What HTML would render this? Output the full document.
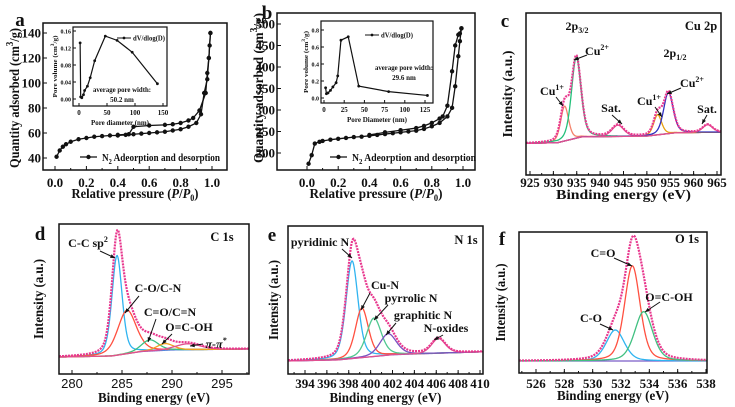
<!DOCTYPE html>
<html><head><meta charset="utf-8"><style>
html,body{margin:0;padding:0;background:#fff;}
svg{display:block;font-family:"Liberation Serif",serif;font-weight:bold;}
</style></head><body>
<svg id="fig" width="735" height="407" viewBox="0 0 735 407" xmlns="http://www.w3.org/2000/svg"></svg>
<script>
// ---- Panel a data ----
const aAdsX=[0.01,0.03,0.05,0.07,0.1,0.15,0.2,0.25,0.3,0.35,0.4,0.45,0.5,0.55,0.6,0.65,0.7,0.75,0.8,0.85,0.9,0.93,0.95,0.97,0.98,0.99];
const aAdsY=[41,46,49,51,53,55,56,57,57.5,58,58,58.5,59,59.5,60,60.5,61,62,63,65,68,75,92,103,120,140];
const aDesX=[0.99,0.985,0.98,0.97,0.96,0.92,0.88,0.85,0.8,0.75,0.7,0.6,0.5,0.47,0.4];
const aDesY=[140,130,120,108,92,78,72,70,68,67,66.5,66,65,59,58.5];
const aInX=[2,3,5,8,10,15,20,28,47,68,95,140];
const aInY=[0.132,0.005,0.003,0.01,0.02,0.03,0.05,0.09,0.148,0.138,0.11,0.036];
const aYTicks=[40,60,80,100,120,140];
const aXTicks=[0,0.2,0.4,0.6,0.8,1.0];
const aInYTicks=[0,0.04,0.08,0.12,0.16];
const aInXTicks=[0,50,100,150];
// ---- Panel b data ----
const bAdsX=[0.01,0.03,0.05,0.08,0.1,0.15,0.2,0.25,0.3,0.35,0.4,0.45,0.5,0.55,0.6,0.65,0.7,0.75,0.8,0.85,0.9,0.93,0.95,0.97,0.98,0.99];
const bAdsY=[175,195,222,226,228,231,233,235,237,238,240,242,244,246,248,250,252,256,262,270,285,305,355,425,460,490];
const bDesX=[0.99,0.98,0.97,0.95,0.93,0.9,0.87,0.85,0.8,0.75,0.7,0.6,0.5,0.4];
const bDesY=[490,478,475,450,390,310,285,280,270,263,258,253,248,242];
const bInX=[2,3,5,8,11,15,17,21,30,43,80,128];
const bInY=[0.12,0.05,0.06,0.09,0.13,0.18,0.26,0.68,0.72,0.14,0.075,0.03];
const bYTicks=[200,250,300,350,400,450,500];
const bXTicks=[0,0.2,0.4,0.6,0.8,1.0];
const bInYTicks=[0,0.2,0.4,0.6,0.8];
const bInXTicks=[0,25,50,75,100,125];
// ---- XPS peak data (center eV, height, fwhm) ----
const cCenters=[932.4,934.9,943.8,952.3,954.6,963.0];
const cHeights=[0.215,0.50,0.07,0.125,0.255,0.047];
const cWidths=[2.0,2.4,3.0,2.0,2.4,2.5];
const cBgX=[925,931,936,950,956,966];
const cBgY=[0.195,0.2,0.235,0.24,0.26,0.265];
const cXTicks=[925,930,935,940,945,950,955,960,965];
const dCenters=[284.5,285.5,287.8,289.3,291.6];
const dHeights=[0.665,0.29,0.075,0.045,0.04];
const dWidths=[1.2,2.2,2.0,2.0,3.0];
const dBgX=[279,284,287,290,298];
const dBgY=[0.113,0.12,0.15,0.16,0.167];
const dXTicks=[280,285,290,295];
const eCenters=[398.3,399.2,400.3,401.6,406.2];
const eHeights=[0.66,0.335,0.26,0.145,0.10];
const eWidths=[1.3,1.4,1.6,1.8,1.5];
const eBgX=[392.5,397,402,410];
const eBgY=[0.088,0.095,0.13,0.149];
const eXTicks=[394,396,398,400,402,404,406,408,410];
const fCenters=[531.6,532.8,533.6];
const fHeights=[0.22,0.675,0.35];
const fWidths=[1.5,1.3,1.5];
const fBgX=[525,538];
const fBgY=[0.085,0.085];
const fXTicks=[526,528,530,532,534,536,538];

const NS="http://www.w3.org/2000/svg";
const svg=document.getElementById('fig');
function mk(tag,attrs,parent){const e=document.createElementNS(NS,tag);for(const k in attrs)e.setAttribute(k,attrs[k]);(parent||svg).appendChild(e);return e;}
function txt(s,x,y,size,parent,anchor,extra){const t=mk('text',Object.assign({x:x,y:y,'font-size':size,'text-anchor':anchor||'middle',fill:'#111'},extra||{}),parent);t.innerHTML=s;return t;}
function fit(len){return {textLength:len,lengthAdjust:'spacingAndGlyphs'};}
function lin(d0,d1,r0,r1){return v=>r0+(v-d0)*(r1-r0)/(d1-d0);}
function interp(xs,ys,x){if(x<=xs[0])return ys[0];for(let i=1;i<xs.length;i++){if(x<=xs[i]){const t=(x-xs[i-1])/(xs[i]-xs[i-1]);return ys[i-1]+t*(ys[i]-ys[i-1]);}}return ys[ys.length-1];}
function pv(x,c,h,w){const s=w/2,d=(x-c)/s;return h*(0.35/(1+d*d)+0.65*Math.exp(-Math.LN2*d*d));}
function arrow(x1,y1,x2,y2,g){mk('line',{x1:x1,y1:y1,x2:x2,y2:y2,stroke:'#111','stroke-width':1},g);const a=Math.atan2(y2-y1,x2-x1),L=5;mk('polygon',{points:`${x2},${y2} ${x2-L*Math.cos(a-0.4)},${y2-L*Math.sin(a-0.4)} ${x2-L*Math.cos(a+0.4)},${y2-L*Math.sin(a+0.4)}`,fill:'#111'},g);}
function frame(g,L,T,R,B){mk('rect',{x:L,y:T,width:R-L,height:B-T,fill:'none',stroke:'#111','stroke-width':1.5},g);}

// ---- isotherm panels ----
function iso(id,box,xr,yr,xT,yT,ads,des,ins,ylbl,lbl){
  const g=mk('g',{});  
  const [L,T,R,B]=box; const X=lin(xr[0],xr[1],xr[2],xr[3]), Y=lin(yr[0],yr[1],yr[2],yr[3]);
  frame(g,L,T,R,B);
  xT.forEach(v=>{const x=X(v);mk('line',{x1:x,y1:B,x2:x,y2:B-4,stroke:'#111'},g);txt(v.toFixed(1),x,B+17,13,g);});
  for(let v=xT[0]+0.1;v<1.05;v+=0.2){const x=X(v);mk('line',{x1:x,y1:B,x2:x,y2:B-2,stroke:'#111'},g);}
  yT.forEach(v=>{const y=Y(v);mk('line',{x1:L,y1:y,x2:L+4,y2:y,stroke:'#111'},g);txt(v,L-2,y+4.5,13,g,'end');});
  txt('Relative pressure (<tspan font-style="italic">P</tspan>/<tspan font-style="italic">P</tspan><tspan font-size="9" dy="3">0</tspan><tspan dy="-3">)</tspan>',(L+R)/2,B+28,14,g,'middle',fit(lbl.xlen));
  const yl=txt(ylbl,0,0,14,g,'middle',fit(lbl.ylen)); yl.setAttribute('transform',`translate(${lbl.yx},${lbl.yc}) rotate(-90)`);
  [ads,des].forEach((s,k)=>{const pts=s[0].map((x,i)=>X(x)+','+Y(s[1][i])).join(' ');
    const pl=mk('polyline',{points:pts,fill:'none',stroke:'#111','stroke-width':1.3},g);  
    s[0].forEach((x,i)=>{const c=mk('circle',{cx:X(x),cy:Y(s[1][i]),r:2.2,fill:'#111'},g);  });});
  const lg=mk('g',{},g);  
  mk('line',{x1:lbl.lgx,y1:lbl.lgy,x2:lbl.lgx+17,y2:lbl.lgy,stroke:'#111','stroke-width':1.3},lg);mk('circle',{cx:lbl.lgx+8.5,cy:lbl.lgy,r:2.2,fill:'#111'},lg);
  txt('N<tspan font-size="7" dy="3">2</tspan><tspan dy="-3"> Adeorption and desorption</tspan>',lbl.lgx+22,lbl.lgy+4,10,lg,'start',fit(lbl.lglen));
  txt(lbl.letter,lbl.lx,lbl.ly,19,g);
  const ig=mk('g',{},g);  
  const [iL,iT,iR,iB]=ins.box; const IX=lin(ins.xr[0],ins.xr[1],ins.xr[2],ins.xr[3]), IY=lin(ins.yr[0],ins.yr[1],ins.yr[2],ins.yr[3]);
  mk('rect',{x:iL,y:iT,width:iR-iL,height:iB-iT,fill:'#fff',stroke:'#111','stroke-width':1.2},ig);
  ins.xT.forEach(v=>{const x=IX(v);mk('line',{x1:x,y1:iB,x2:x,y2:iB-3,stroke:'#111'},ig);txt(v,x,iB+9,7,ig);});
  ins.yT.forEach(v=>{const y=IY(v);mk('line',{x1:iL,y1:y,x2:iL+3,y2:y,stroke:'#111'},ig);txt(v.toFixed(ins.dec),iL-2,y+2.5,6,ig,'end');});
  txt(ins.xlabel,(iL+iR)/2,iB+19,7,ig,'middle',fit(ins.xlen));
  const iy=txt('Pore volume (cm<tspan font-size="5" dy="-3">3</tspan><tspan dy="3">/g)</tspan>',0,0,6.5,ig,'middle',fit(ins.ylen)); iy.setAttribute('transform',`translate(${iL-ins.ylx},${(iT+iB)/2}) rotate(-90)`);
  mk('polyline',{points:ins.x.map((x,i)=>IX(x)+','+IY(ins.y[i])).join(' '),fill:'none',stroke:'#111','stroke-width':1.2},ig);
  ins.x.forEach((x,i)=>{const c=mk('circle',{cx:IX(x),cy:IY(ins.y[i]),r:1.4,fill:'#111'},ig);  });
  mk('line',{x1:ins.lg[0],y1:ins.lg[1],x2:ins.lg[0]+14,y2:ins.lg[1],stroke:'#111'},ig);mk('circle',{cx:ins.lg[0]+7,cy:ins.lg[1],r:1.4,fill:'#111'},ig);
  txt('dV/dlog(D)',ins.lg[0]+16,ins.lg[1]+2.5,7,ig,'start',fit(32));
  txt('average pore width:',ins.ap[0],ins.ap[1],7,ig,'middle',fit(58));txt(ins.apv,ins.ap[0],ins.ap[1]+10,7,ig);
}
const yt='Quantity adsorbed (cm<tspan font-size="10" dy="-6">3</tspan><tspan dy="6">/g)</tspan>';
iso('panel-a',[43,23,227,170],[0,1,55,212],[40,140,158,33],aXTicks,aYTicks,[aAdsX,aAdsY],[aDesX,aDesY],
 {box:[73,27,167,106],xr:[0,150,79,163],yr:[0,0.16,99,31],xT:aInXTicks,yT:aInYTicks,dec:2,x:aInX,y:aInY,xlabel:'Pore diameter (nm)',xlen:58,ylen:62,ylx:16,lg:[117,38],ap:[122,92],apv:'50.2 nm'},
 yt,{yx:19,yc:98,ylen:140,xlen:127,lgx:80,lgy:157,lglen:118,letter:'a',lx:20,ly:26});
iso('panel-b',[277,13,475,170],[0,1,307,463],[200,500,153,24],bXTicks,bYTicks,[bAdsX,bAdsY],[bDesX,bDesY],
 {box:[321,21,433,103],xr:[0,125,324,425],yr:[0,0.8,98,30],xT:bInXTicks,yT:bInYTicks,dec:1,x:bInX,y:bInY,xlabel:'Pore Diameter (nm)',xlen:60,ylen:62,ylx:13,lg:[365,35],ap:[404,70],apv:'29.6 nm'},
 yt,{yx:263,yc:88,ylen:150,xlen:133,lgx:330,lgy:157,lglen:124,letter:'b',lx:267,ly:19});

// ---- XPS panels ----
function xps(id,box,xr,xT,cent,hgt,wid,bgX,bgY,colors,sumColor,font,letter,lpos,labels,title,ax){
  const g=mk('g',{});  
  const [L,T,R,B]=box; const X=lin(xr[0],xr[1],xr[2],xr[3]), Y=lin(0,1,B,T);
  const E0=xr[0]-(xr[2]-L)*(xr[1]-xr[0])/(xr[3]-xr[2]), E1=xr[0]+(R-xr[2])*(xr[1]-xr[0])/(xr[3]-xr[2]);
  const N=300, es=[]; for(let i=0;i<=N;i++)es.push(E0+(E1-E0)*i/N);
  const clip=mk('clipPath',{id:id+'-clip'},g); mk('rect',{x:L,y:T,width:R-L,height:B-T},clip);
  const pg=mk('g',{'clip-path':`url(#${id}-clip)`},g);
  const bg=es.map(e=>interp(bgX,bgY,e));
  const bl=mk('polyline',{points:es.map((e,i)=>X(e)+','+Y(bg[i])).join(' '),fill:'none',stroke:'#7a5cc8','stroke-width':1.2},pg);
   
  cent.forEach((c,k)=>{const p=mk('polyline',{points:es.map((e,i)=>X(e)+','+Y(bg[i]+pv(e,c,hgt[k],wid[k]))).join(' '),fill:'none',stroke:colors[k],'stroke-width':1.3},pg);
     });
  const sum=es.map((e,i)=>bg[i]+cent.reduce((s,c,k)=>s+pv(e,c,hgt[k],wid[k]),0));
  const sp=mk('polyline',{points:es.map((e,i)=>X(e)+','+Y(sum[i])).join(' '),fill:'none',stroke:sumColor,'stroke-width':2.2,'stroke-dasharray':'2 1'},pg);
   
  frame(g,L,T,R,B);
  xT.forEach(v=>{const x=X(v);mk('line',{x1:x,y1:B,x2:x,y2:B-4,stroke:'#111'},g);txt(v,x,B+ax.tk,13,g,'middle',font);});
  const step=(xT[1]-xT[0])/2; for(let v=xT[0]-step;v<=E1;v+=step){if(v<E0)continue;const x=X(v);mk('line',{x1:x,y1:B,x2:x,y2:B-2,stroke:'#111'},g);}
  txt('Binding energy (eV)',(L+R)/2,B+ax.tt,14,g,'middle',fit(ax.xlen));
  const yl=txt('Intensity (a.u.)',0,0,14,g,'middle',fit(ax.ylen)); yl.setAttribute('transform',`translate(${ax.yx},${(T+B)/2}) rotate(-90)`);
  txt(letter,lpos[0],lpos[1],19,g);
  txt(title[0],title[1],title[2],12.5,g);
  labels.forEach(l=>{txt(l[0],l[1],l[2],12,g,'middle',l[7]||{});if(l[3]!==null)arrow(l[3],l[4],l[5],l[6],g);});
}
xps('panel-c',[526,13,721,175],[925,965,530,717],cXTicks,cCenters,cHeights,cWidths,cBgX,cBgY,
 ['#f4826a','#22c07a','#e05090','#e8a010','#3030c0','#e05090'],'#e8388e',{},'c',[505,27],
 [['2p<tspan font-size="8" dy="3">3/2</tspan>',577,30,null],['Cu<tspan font-size="8" dy="-5">2+</tspan>',597,55,587,55,574,60],
  ['Cu<tspan font-size="8" dy="-5">1+</tspan>',552,95,556,97,563,106],['Sat.',611,112,612,115,622,124],
  ['2p<tspan font-size="8" dy="3">1/2</tspan>',675,57,null],['Cu<tspan font-size="8" dy="-5">1+</tspan>',649,105,655,107,662,117],
  ['Cu<tspan font-size="8" dy="-5">2+</tspan>',692,87,681,88,667,94],['Sat.',707,113,707,115,702,124]],['Cu 2p',701,30],
 {tk:12,tt:24,xlen:135,ylen:87,yx:512});
xps('panel-d',[59,224,249,374],[280,295,72,222],dXTicks,dCenters,dHeights,dWidths,dBgX,dBgY,
 ['#30b4f0','#ff5040','#3cc080','#f0a020','#e05090'],'#e8388e',{'font-family':'Liberation Sans, sans-serif','font-weight':'normal'},'d',[40,240],
 [['C-C sp<tspan font-size="8" dy="-5">2</tspan>',88,247,100,251,115,258],['C-O/C-N',158,292,139,296,125,313],
  ['C=O/C=N',170,316,156,319,148,342],['O=C-OH',189,331,172,334,162,344],['π-π<tspan font-size="8" dy="-5">*</tspan>',216,348,203,344,190,346,{'font-style':'italic'}]],['C 1s',222,241],
 {tk:14,tt:28,xlen:112,ylen:80,yx:43});
xps('panel-e',[288,226,483,374],[394,410,305,480],eXTicks,eCenters,eHeights,eWidths,eBgX,eBgY,
 ['#30b4f0','#ff5040','#50c890','#7a50c0','#e05090'],'#e8388e',{},'e',[272,241],
 [['pyridinic N',320,246,342,249,352,258],['Cu-N',385,289,370,293,361,310],['pyrrolic N',411,302,388,305,374,320],
  ['graphitic N',423,319,396,323,386,335],['N-oxides',446,332,443,335,434,340]],['N 1s',466,244],
 {tk:14,tt:28,xlen:112,ylen:80,yx:278});
xps('panel-f',[519,232,707,373],[526,538,536,706],fXTicks,fCenters,fHeights,fWidths,fBgX,fBgY,
 ['#30b4f0','#ff5040','#40c080'],'#e8388e',{},'f',[502,245],
 [['C=O',603,257,614,258,632,266],['O=C-OH',669,301,660,302,645,312],['C-O',591,322,600,324,613,330]],['O 1s',687,243],
 {tk:15,tt:27,xlen:112,ylen:78,yx:505});
</script>
</body></html>
